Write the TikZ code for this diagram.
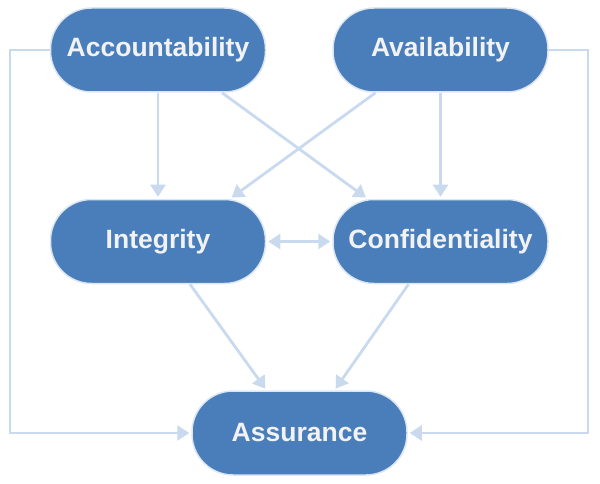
\documentclass[tikz,border=0pt]{standalone}
\usepackage{fontspec}
\setmainfont{Liberation Sans}
\usetikzlibrary{arrows.meta}
\definecolor{nodefill}{HTML}{4A7EBB}
\definecolor{nodeedge}{HTML}{DCE6F2}
\definecolor{linec}{HTML}{C9DAEF}
\definecolor{textc}{HTML}{F2F2F2}
\begin{document}
\begin{tikzpicture}[x=1pt,y=-1pt,
  box/.style={draw=nodeedge,line width=1.5pt,fill=nodefill,rectangle,rounded corners=41pt,
    minimum width=215pt,minimum height=84pt,inner sep=0pt,
    font=\bfseries\fontsize{26.5}{30}\selectfont,text=textc},
  tip/.style={Triangle[length=12pt,width=15pt]},
  conn/.style={draw=linec,line width=2.8pt,-{Triangle[length=12pt,width=15pt]},shorten >=2pt},
  dconn/.style={draw=linec,line width=2.8pt,{Triangle[length=12pt,width=15pt]}-{Triangle[length=12pt,width=15pt]},shorten >=2pt,shorten <=2pt}]
\useasboundingbox (0,0) rectangle (600,484);
\node[box] (acc) at (158,50) {Accountability};
\node[box] (ava) at (440.5,50) {Availability};
\node[box] (int) at (158,241.5) {Integrity};
\node[box] (con) at (440.5,241.5) {Confidentiality};
\node[box] (asr) at (299.5,433) {Assurance};
\coordinate (l1) at (10,50);
\coordinate (l2) at (10,433);
\coordinate (r1) at (588,50);
\coordinate (r2) at (588,433);
\draw[conn] (acc.west) -- (l1) -- (l2) -- (asr.west);
\draw[conn] (ava.east) -- (r1) -- (r2) -- (asr.east);
\draw[conn] (acc.south) -- (int.north);
\draw[conn] (ava.south) -- (con.north);
\draw[conn] ([xshift=64pt]acc.south) -- ([xshift=-73pt]con.north);
\draw[conn] ([xshift=-65pt]ava.south) -- ([xshift=72pt]int.north);
\draw[conn] ([xshift=32pt]int.south) -- ([xshift=-33pt]asr.north);
\draw[conn] ([xshift=-32pt]con.south) -- ([xshift=35pt]asr.north);
\draw[dconn] (int.east) -- (con.west);
\end{tikzpicture}
\end{document}
